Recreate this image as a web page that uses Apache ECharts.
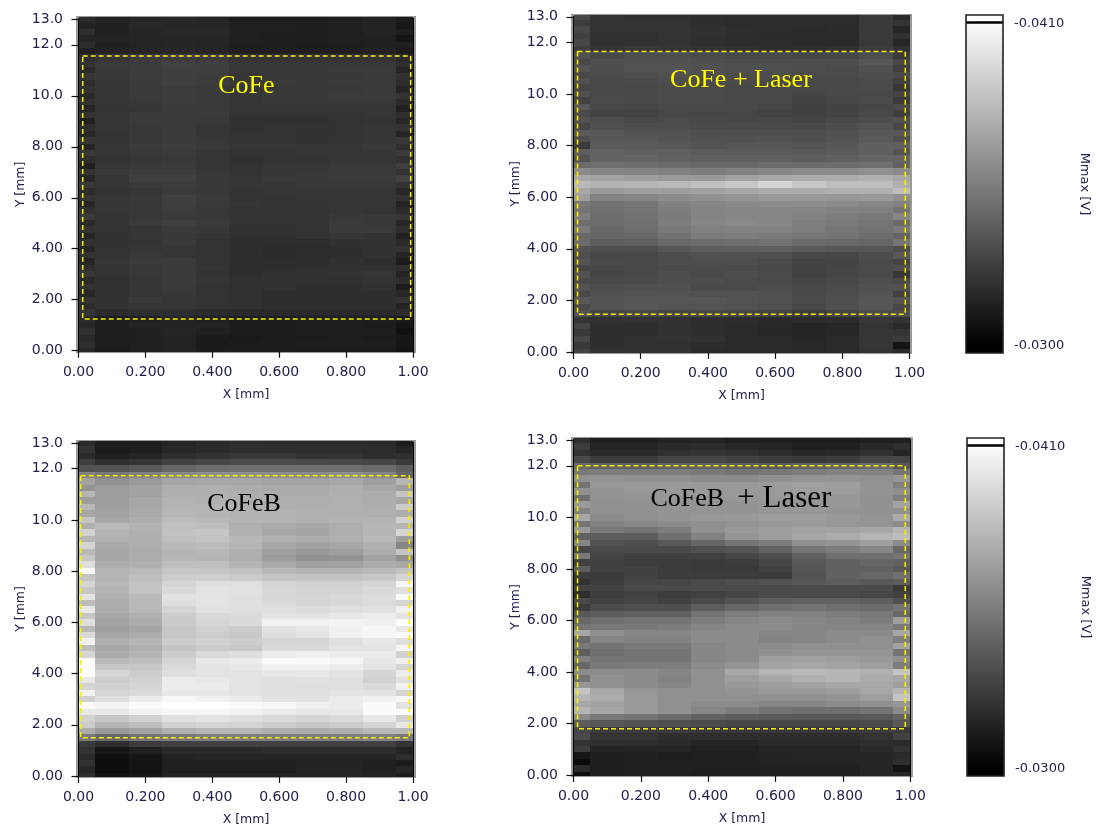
<!DOCTYPE html>
<html><head><meta charset="utf-8">
<style>html,body{margin:0;padding:0;background:#fff}#c{width:1096px;height:827px}#c canvas{filter:blur(0.45px)}</style>
<script src="https://cdn.jsdelivr.net/npm/echarts@6/dist/echarts.min.js"></script>
</head><body><div id="c"></div>
<script>
// Values are Mmax magnitude in 1e-4 V (345 = -0.0345 V). Rows run from Y=13.0 down to Y=0 in 0.25 mm steps.
const xBinEdges = [0,0.05,0.15,0.25,0.35,0.45,0.55,0.65,0.75,0.85,0.95,1.0];
const xTickValues = [0,0.2,0.4,0.6,0.8,1];
const xTickLabels = ['0.00','0.200','0.400','0.600','0.800','1.00'];
const yTickValues = [0,2,4,6,8,10,12,13];
const yTickLabels = ['0.00','2.00','4.00','6.00','8.00','10.0','12.0','13.0'];
const coFeRows = [
[319,315,316,317,316,313,313,313,314,315,312],
[315,314,317,316,316,314,314,313,314,315,310],
[320,314,316,317,317,314,314,314,314,315,313],
[316,315,316,316,316,314,313,313,314,314,309],
[319,314,315,316,315,313,313,312,313,314,314],
[314,315,316,317,316,314,314,314,314,315,311],
[320,323,325,326,325,322,322,322,322,322,318],
[322,325,326,328,327,324,324,324,324,324,320],
[318,324,326,327,327,324,324,324,325,325,316],
[323,324,326,327,326,323,324,324,324,325,321],
[319,323,325,327,326,324,325,324,325,325,319],
[322,323,325,326,325,323,324,324,324,325,316],
[318,323,325,326,325,323,324,324,325,325,322],
[321,323,324,326,325,323,324,324,324,324,318],
[316,322,323,325,325,323,323,323,323,323,314],
[322,323,325,325,325,322,322,322,322,323,320],
[314,323,325,325,324,321,321,321,322,322,317],
[320,323,324,325,323,321,322,322,322,323,322],
[317,322,324,325,323,322,322,321,322,323,316],
[323,322,324,325,324,322,322,322,322,323,324],
[316,323,325,326,324,323,323,323,323,324,320],
[324,323,324,325,323,322,322,323,323,323,325],
[320,322,323,324,323,321,322,322,323,323,321],
[314,323,324,325,323,322,323,323,324,324,327],
[322,324,326,326,324,322,323,324,325,325,322],
[317,323,327,327,324,323,324,324,325,325,328],
[324,323,325,326,324,323,323,324,324,324,322],
[319,322,323,325,324,322,323,323,323,323,317],
[323,323,324,327,325,322,322,323,323,323,321],
[316,323,324,327,325,323,322,322,323,323,315],
[321,323,324,326,324,322,322,322,323,322,319],
[325,322,324,325,324,322,322,322,324,324,323],
[318,322,325,327,325,322,322,322,325,324,317],
[322,322,323,325,324,321,321,322,325,325,320],
[316,321,323,324,323,321,321,322,323,322,314],
[321,321,322,324,322,320,320,320,321,321,318],
[317,322,323,323,322,320,319,319,320,321,322],
[322,322,324,323,322,320,319,320,320,321,316],
[316,323,325,325,322,320,320,320,321,320,312],
[320,322,324,325,323,320,320,321,321,321,320],
[324,322,324,325,322,320,321,321,322,323,315],
[318,321,323,325,323,321,321,321,321,322,319],
[322,321,323,325,322,321,321,320,320,321,312],
[317,321,323,324,322,321,320,319,320,320,317],
[322,322,324,323,322,321,320,319,320,320,322],
[319,322,323,323,322,321,320,320,320,320,315],
[322,319,320,320,319,318,318,318,318,318,319],
[318,313,314,315,314,312,312,313,313,313,311],
[317,313,315,315,315,312,312,313,313,312,309],
[321,313,314,316,314,312,312,313,313,313,307],
[318,313,314,315,312,311,312,312,313,312,310],
[320,313,314,315,311,312,312,313,313,313,309],
[317,312,314,315,312,312,312,312,312,312,308]];
const coFeLaserRows = [
[331,322,321,321,320,320,320,320,320,325,318],
[326,322,322,322,320,319,320,319,319,325,322],
[331,322,322,322,321,320,319,318,319,325,316],
[327,321,321,322,321,319,319,318,318,325,321],
[330,321,321,322,320,319,319,318,318,324,317],
[327,323,324,323,322,321,320,320,321,326,321],
[335,331,333,333,332,331,331,330,330,333,325],
[331,334,335,335,334,333,333,333,333,337,331],
[336,333,336,336,335,334,334,333,332,335,327],
[331,332,334,335,334,333,333,332,332,333,332],
[334,331,332,333,333,332,332,331,331,332,328],
[330,331,331,332,332,331,331,331,331,332,324],
[334,331,331,332,332,331,331,330,331,331,329],
[329,332,331,332,332,331,331,329,330,332,325],
[338,331,330,331,331,331,330,328,329,330,332],
[332,329,329,330,330,330,329,328,329,331,327],
[335,333,331,332,331,330,331,329,331,333,335],
[330,335,333,333,332,332,332,331,333,336,331],
[339,338,336,336,334,334,334,333,335,338,338],
[333,338,338,336,335,335,336,334,336,339,334],
[325,339,339,338,336,337,337,336,338,341,341],
[340,342,341,341,339,339,339,338,339,341,336],
[336,343,343,342,341,341,341,340,341,343,343],
[346,348,347,346,345,345,346,346,346,348,342],
[360,358,357,355,354,356,358,360,360,362,360],
[372,370,368,366,366,370,372,374,374,376,372],
[380,377,378,380,383,386,392,386,382,382,376],
[372,366,368,368,370,372,374,374,376,376,382],
[368,356,358,360,362,364,366,366,365,366,362],
[352,349,351,356,358,360,360,361,360,358,356],
[350,348,350,354,357,358,358,357,356,355,350],
[354,347,349,353,357,358,358,356,354,352,358],
[347,346,348,354,358,359,358,354,352,350,346],
[352,345,347,352,355,356,356,354,351,349,352],
[345,344,345,349,353,354,353,351,349,347,343],
[346,340,341,345,347,348,349,346,345,344,350],
[336,334,333,337,340,341,341,339,337,337,333],
[334,331,330,333,335,335,334,331,330,333,338],
[336,332,331,333,333,333,332,329,329,332,329],
[330,331,331,332,332,332,331,329,330,332,334],
[335,330,331,333,332,333,332,329,330,332,324],
[332,331,332,333,333,332,332,330,331,333,332],
[336,333,334,335,332,332,333,331,332,335,335],
[331,335,336,336,335,335,334,331,333,336,328],
[338,336,337,337,337,336,335,332,334,337,336],
[332,336,337,336,336,335,334,331,334,337,331],
[335,330,331,330,331,330,329,326,329,333,333],
[323,321,322,322,320,319,318,319,319,324,322],
[329,320,320,321,320,318,317,316,317,322,318],
[324,320,320,322,320,318,317,316,317,323,322],
[330,320,321,322,321,318,318,316,318,323,325],
[325,320,321,321,319,318,318,317,318,323,309],
[328,321,322,322,318,318,318,318,318,322,318]];
const coFeBRows = [
[318,313,313,316,318,320,319,318,318,318,312],
[322,312,313,317,318,320,320,320,320,319,316],
[319,314,316,320,322,324,324,322,322,320,320],
[327,320,323,328,330,332,332,332,331,330,325],
[335,336,339,344,347,348,348,348,348,346,340],
[356,352,356,360,362,362,361,360,362,358,344],
[370,362,367,371,372,372,370,370,372,368,378],
[364,367,370,375,375,374,373,373,375,372,368],
[378,368,370,376,376,375,374,374,376,374,385],
[368,368,372,377,376,375,375,375,376,374,372],
[380,369,372,378,378,376,376,375,376,375,388],
[372,370,373,379,378,377,377,376,376,376,375],
[385,372,375,381,380,378,378,376,377,378,390],
[376,380,377,383,382,376,374,372,375,379,378],
[390,378,376,384,385,376,372,371,375,378,392],
[378,376,376,382,384,380,376,374,376,380,368],
[392,373,375,380,381,378,372,370,372,376,358],
[380,372,374,378,379,376,369,366,368,374,385],
[386,372,374,379,378,375,367,362,363,370,362],
[396,374,376,382,382,378,373,369,370,374,372],
[408,378,380,386,386,384,380,378,378,380,384],
[385,378,382,388,389,387,385,384,384,386,392],
[392,380,384,392,396,396,392,390,390,392,406],
[386,378,384,394,398,397,393,391,392,394,396],
[398,376,380,397,398,396,393,392,393,395,408],
[382,374,380,396,398,396,394,392,393,395,392],
[400,374,380,392,397,396,396,395,396,397,404],
[386,372,376,388,393,394,398,398,400,402,398],
[396,370,374,387,392,394,404,404,405,404,410],
[380,368,371,386,390,388,398,400,404,406,400],
[394,371,374,386,388,386,396,398,404,406,408],
[404,375,378,388,390,388,392,392,396,400,396],
[382,372,376,385,388,386,394,394,398,398,406],
[392,374,378,388,394,396,402,404,402,402,390],
[410,380,382,392,400,402,408,408,406,400,404],
[408,386,386,394,398,400,404,404,402,398,392],
[410,392,388,396,398,398,400,400,398,392,402],
[400,388,390,402,400,398,396,397,396,390,396],
[392,390,392,402,402,398,396,396,396,394,404],
[404,392,394,400,400,398,396,396,398,398,392],
[390,396,402,406,404,402,398,398,402,404,406],
[408,405,408,410,410,408,406,404,402,408,398],
[400,400,404,406,406,404,402,400,400,408,408],
[390,386,390,396,398,396,394,392,394,400,390],
[388,378,382,390,392,392,388,386,388,392,400],
[374,366,370,376,378,378,376,374,376,380,380],
[352,345,350,352,354,354,354,354,354,356,352],
[325,320,326,328,328,328,328,328,328,328,322],
[322,310,314,318,318,318,320,320,320,320,315],
[318,307,309,315,316,316,316,316,316,316,320],
[321,306,308,314,314,314,314,315,315,314,312],
[317,306,308,314,314,314,314,315,315,314,317],
[320,308,310,316,316,316,316,316,316,315,312]];
const coFeBLaserRows = [
[320,313,313,315,315,313,313,312,312,314,314],
[326,316,316,318,319,317,316,314,314,317,320],
[322,318,318,321,323,321,319,317,318,321,316],
[332,326,326,330,330,328,326,324,326,330,330],
[345,342,340,342,342,340,338,342,344,346,338],
[352,354,353,354,352,350,351,354,356,356,350],
[362,364,362,362,360,360,362,364,364,362,365],
[350,366,366,366,366,366,367,369,368,364,355],
[362,364,365,366,366,366,367,368,367,364,362],
[348,363,364,365,365,365,366,366,365,363,355],
[366,362,363,364,364,364,365,365,365,363,370],
[356,362,363,364,364,364,365,365,364,363,362],
[372,360,363,364,365,366,368,368,366,364,374],
[350,356,358,360,362,364,366,366,365,364,360],
[366,352,350,354,362,366,368,370,370,372,378],
[342,340,340,348,356,364,368,372,374,378,382],
[358,336,334,338,344,350,354,362,364,368,360],
[330,332,332,332,334,336,342,350,354,358,345],
[352,330,328,328,328,330,334,342,348,348,350],
[328,328,326,326,325,326,330,338,342,344,342],
[340,328,328,326,325,325,328,337,342,342,338],
[326,325,328,326,326,326,326,336,342,344,348],
[322,326,330,330,332,334,336,338,340,338,340],
[328,328,332,332,332,332,332,332,332,332,325],
[320,326,328,326,328,330,332,332,332,330,328],
[332,328,330,328,332,336,340,342,342,340,335],
[326,332,334,334,340,344,348,350,348,346,350],
[338,340,342,342,350,354,356,356,354,352,345],
[345,348,350,350,354,358,360,358,356,354,368],
[350,352,352,354,358,360,360,358,358,358,352],
[372,362,358,358,360,360,358,358,360,360,372],
[346,358,356,356,360,360,356,358,360,362,355],
[352,350,352,352,358,360,360,362,362,362,370],
[340,348,350,350,358,360,362,364,364,364,350],
[355,350,350,350,358,360,368,370,368,366,362],
[345,352,354,354,360,364,370,372,370,368,354],
[360,360,360,358,362,372,378,380,378,376,385],
[350,362,360,356,362,368,372,376,378,374,372],
[365,362,360,358,362,366,368,370,372,372,368],
[385,372,365,362,362,364,366,366,368,372,378],
[378,374,366,362,362,362,362,362,364,368,385],
[372,370,366,362,360,360,358,358,360,362,365],
[378,372,366,362,358,354,350,348,348,350,360],
[360,352,350,346,342,340,338,338,338,338,342],
[340,338,336,334,332,330,330,330,330,332,338],
[330,326,326,325,324,324,324,324,324,326,325],
[332,322,322,320,320,320,320,320,320,322,328],
[322,320,320,318,316,316,318,318,318,320,318],
[326,315,316,316,314,314,316,316,316,318,322],
[310,314,314,313,314,314,315,316,316,316,318],
[305,313,314,314,314,314,315,315,315,316,320],
[318,313,314,314,314,314,314,314,314,316,308],
[306,314,314,314,313,313,314,314,314,316,316]];
// Dashed analysis windows in data units: [x0, x1, y0, y1]
const coFeWindow = [0.0126,0.993,1.24,11.56];
const coFeLaserWindow = [0.012,0.987,1.46,11.65];
const coFeBWindow = [0.0066,0.989,1.49,11.72];
const coFeBLaserWindow = [0.012,0.985,1.79,12.0];
const colorbarStops = [300,410];
const colorbarLabels = ['-0.0300','-0.0410'];

const panels = [
 {rows:coFeRows,win:coFeWindow,label:'CoFe',lx:.502,ly:10.38,color:'#ffff00',l:77,t:17,w:338,h:335,x:[-.0045,1.006],y:[-.05,13.09]},
 {rows:coFeLaserRows,win:coFeLaserWindow,label:'CoFe + Laser',lx:.498,ly:10.54,color:'#ffff00',l:572,t:15,w:339,h:338,x:[-.0045,1.004],y:[-.04,13.07]},
 {rows:coFeBRows,win:coFeBWindow,label:'CoFeB',lx:.495,ly:10.61,color:'#000',l:77,t:441,w:338,h:337,x:[-.0045,1.006],y:[-.04,13.08]},
 {rows:coFeBLaserRows,win:coFeBLaserWindow,label:'{a|CoFeB  }{b|+ Laser}',lx:.497,ly:10.72,color:'#000',l:572,t:438,w:340,h:338,x:[-.0045,1.005],y:[-.04,13.08]}
];
const txt='#20224e', font='"DejaVu Sans"';
const grids=[],xAxes=[],yAxes=[],series=[];
panels.forEach((p,i)=>{
  grids.push({left:p.l,top:p.t,width:p.w,height:p.h,show:true,borderColor:'#9a9a9a',borderWidth:2,backgroundColor:'#000'});
  xAxes.push({gridIndex:i,type:'value',min:p.x[0],max:p.x[1],offset:3,name:'X [mm]',nameLocation:'middle',nameGap:33,
    nameTextStyle:{color:txt,fontFamily:font,fontSize:12.5},splitLine:{show:false},axisLine:{show:false},
    axisTick:{show:true,length:7,customValues:xTickValues,lineStyle:{color:'#111',width:1.2}},
    axisLabel:{customValues:xTickValues,color:txt,fontFamily:font,fontSize:14,margin:10,
      formatter:v=>xTickLabels[xTickValues.findIndex(t=>Math.abs(t-v)<1e-6)]}});
  yAxes.push({gridIndex:i,type:'value',min:p.y[0],max:p.y[1],offset:2,name:'Y [mm]',nameLocation:'middle',nameGap:48,nameRotate:90,
    nameTextStyle:{color:txt,fontFamily:font,fontSize:12.5},splitLine:{show:false},axisLine:{show:false},
    axisTick:{show:true,length:7,customValues:yTickValues,lineStyle:{color:'#111',width:1.2}},
    axisLabel:{customValues:yTickValues,color:txt,fontFamily:font,fontSize:14,margin:12,padding:[8,0,0,0],
      formatter:v=>yTickLabels[yTickValues.findIndex(t=>Math.abs(t-v)<1e-6)]}});
  const cells=[];
  p.rows.forEach((r,ri)=>{const yc=13-ri*.25;r.forEach((v,ci)=>cells.push([xBinEdges[ci],xBinEdges[ci+1],yc-.125,yc+.125,v]));});
  series.push({type:'custom',xAxisIndex:i,yAxisIndex:i,clip:true,silent:true,animation:false,data:cells,progressive:0,
    renderItem:(ctx,api)=>{
      const a=api.coord([api.value(0),api.value(2)]),b=api.coord([api.value(1),api.value(3)]);
      const x=Math.round(a[0]),y=Math.round(b[1]);
      return {type:'rect',shape:{x,y,width:Math.round(b[0])-x,height:Math.round(a[1])-y},style:{fill:api.visual('color')}};
    }});
  series.push({type:'custom',xAxisIndex:i,yAxisIndex:i,silent:true,animation:false,z:5,data:[p.win],
    renderItem:(ctx,api)=>{
      const a=api.coord([api.value(0),api.value(2)]),b=api.coord([api.value(1),api.value(3)]);
      return {type:'rect',shape:{x:a[0],y:b[1],width:b[0]-a[0],height:a[1]-b[1]},
        style:{fill:'none',stroke:'#f8f000',lineWidth:1.5,lineDash:[5,3]}};
    }});
  series.push({type:'custom',xAxisIndex:i,yAxisIndex:i,silent:true,animation:false,z:6,data:[[p.lx,p.ly]],
    renderItem:(ctx,api)=>{
      const c=api.coord([api.value(0),api.value(1)]);
      return {type:'text',x:c[0],y:c[1],style:{text:p.label,fill:p.color,font:'26px "Liberation Serif"',align:'center',verticalAlign:'middle',
        rich:{a:{font:'26px "Liberation Serif"',fill:p.color},b:{font:'31px "Liberation Serif"',fill:p.color}}}};
    }});
});
// Colorbars
[{l:966,t:15},{l:967,t:438}].forEach((c,k)=>{
  const gi=grids.length;
  grids.push({left:c.l,top:c.t,width:37,height:338});
  xAxes.push({gridIndex:gi,type:'value',min:0,max:1,show:false});
  yAxes.push({gridIndex:gi,type:'value',position:'right',min:297.6,max:413,offset:3,name:'Mmax [V]',nameLocation:'middle',nameRotate:-90,nameGap:72,
    nameTextStyle:{color:txt,fontFamily:font,fontSize:13},splitLine:{show:false},axisLine:{show:false},
    axisTick:{show:true,length:7,customValues:colorbarStops,lineStyle:{color:'#111',width:1.2}},
    axisLabel:{customValues:colorbarStops,color:txt,fontFamily:font,fontSize:13,margin:8,padding:[8,0,0,0],
      formatter:v=>colorbarLabels[colorbarStops.indexOf(v)]}});
  series.push({type:'custom',xAxisIndex:gi,yAxisIndex:gi,silent:true,animation:false,clip:false,data:[[0]],
    renderItem:(ctx,api)=>{
      const L=api.coord([0,0])[0],R=api.coord([1,0])[0],Y=v=>api.coord([0,v])[1];
      const lo=colorbarStops[0],hi=colorbarStops[1],top=Y(413),bot=Y(297.6);
      return {type:'group',children:[
        {type:'rect',shape:{x:L,y:Y(lo),width:R-L,height:bot-Y(lo)},style:{fill:'#000'}},
        {type:'rect',shape:{x:L,y:Y(hi),width:R-L,height:Y(lo)-Y(hi)},style:{fill:new echarts.graphic.LinearGradient(0,0,0,1,[{offset:0,color:'#fafafa'},{offset:1,color:'#000'}])}},
        {type:'rect',shape:{x:L,y:Y(410.9),width:R-L,height:2.6},style:{fill:'#000'}},
        {type:'rect',shape:{x:L,y:top,width:R-L,height:bot-top},style:{fill:'none',stroke:'#222',lineWidth:1.6}}
      ]};
    }});
});
const chart=echarts.init(document.getElementById('c'),null,{renderer:'canvas'});
chart.setOption({animation:false,backgroundColor:'#fff',grid:grids,xAxis:xAxes,yAxis:yAxes,series,
  visualMap:{show:false,type:'continuous',min:300,max:410,dimension:4,seriesIndex:[0,3,6,9],inRange:{color:['#000000','#ffffff']}}});
</script></body></html>
